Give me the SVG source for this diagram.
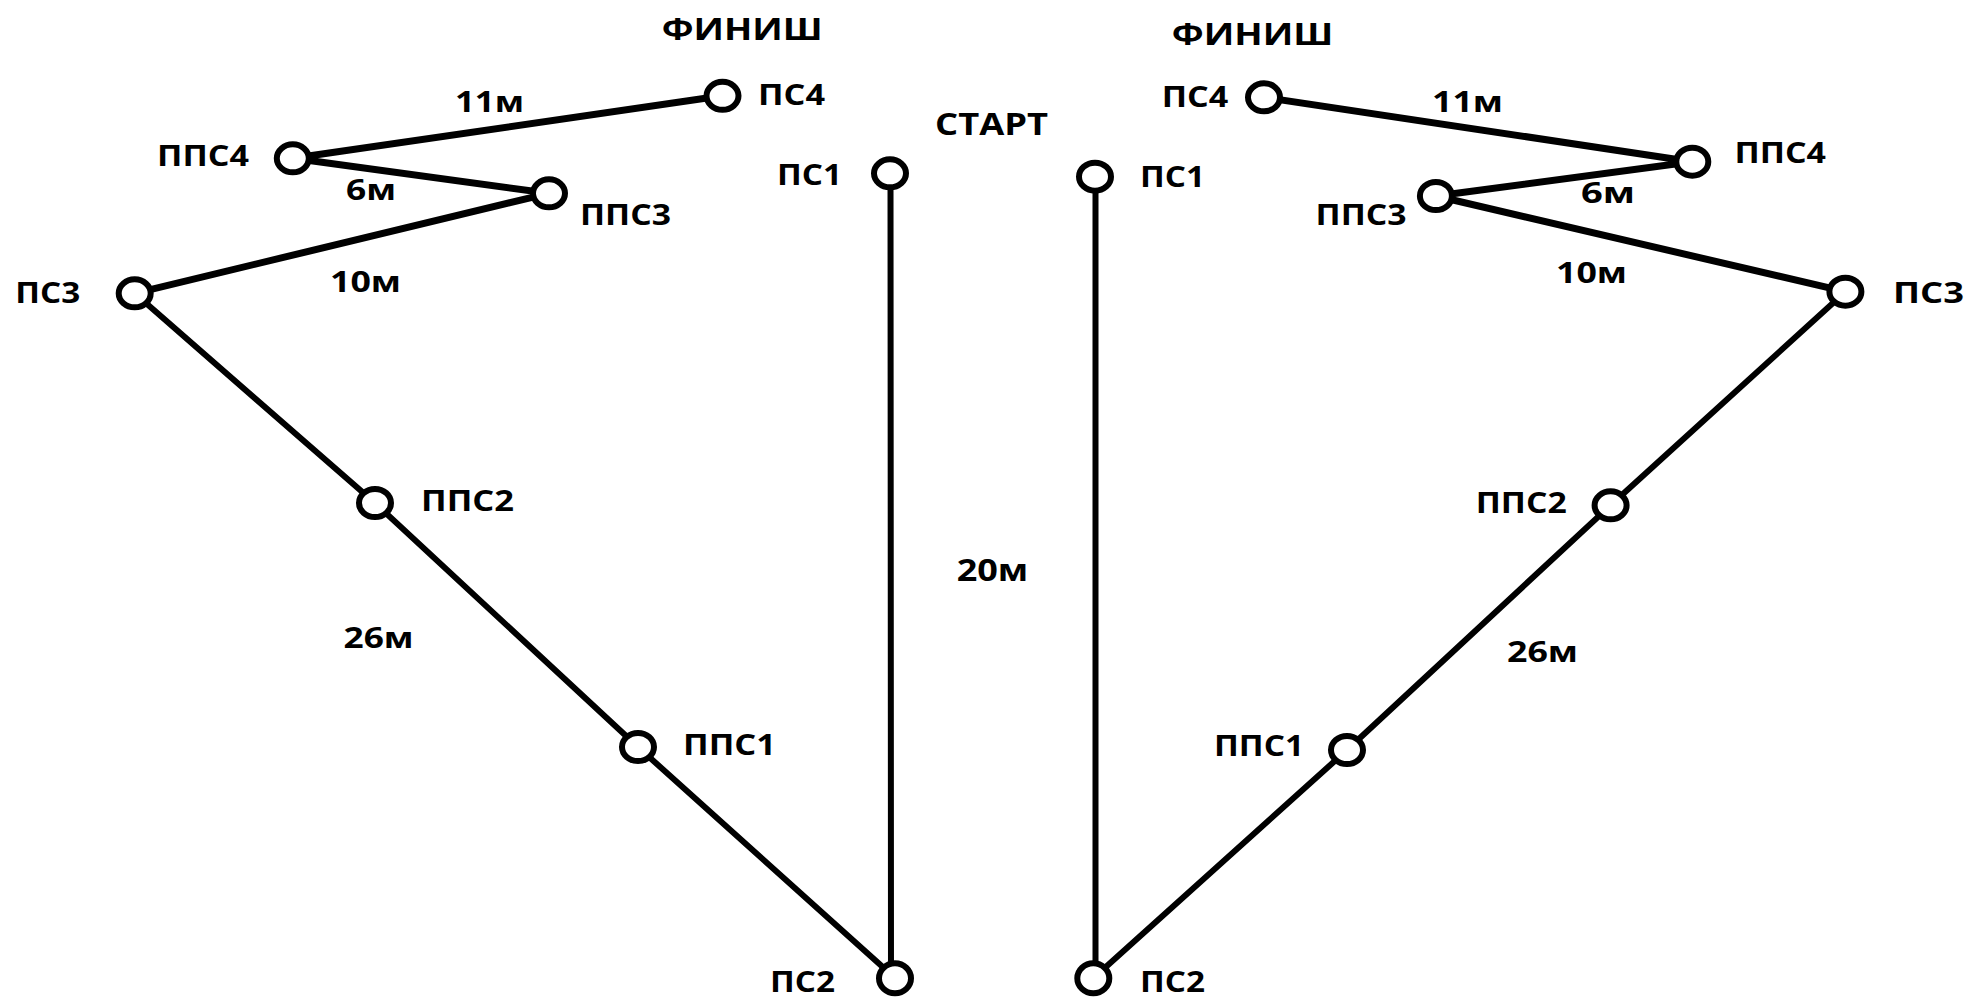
<svg xmlns="http://www.w3.org/2000/svg" width="1967" height="997" viewBox="0 0 1967 997">
<style>
.bg{fill:#fff}
.ln{stroke:#000;stroke-width:6;fill:none;stroke-linecap:round;stroke-linejoin:round}
.lt{stroke:#000;stroke-width:7;fill:none;stroke-linecap:round;stroke-linejoin:round}
.nd{fill:#fff;stroke:#000;stroke-width:6}
text{font-family:"Open Sans","Liberation Sans",sans-serif;font-weight:700;fill:#000}
.lb{font-size:28px}
.tt{font-size:31px}
</style>
<rect class="bg" x="0" y="0" width="1967" height="997"/>
<g id="connectors">
  <polyline class="lt" points="722.5,95.8 292.8,158.3 549,193.3 134.7,293.3"/>
  <polyline class="ln" points="134.7,293.3 375,503 638,747 895,978"/>
  <line class="ln" x1="890.5" y1="173" x2="891" y2="978"/>
  <polyline class="lt" points="1264,97.3 1692.3,161.7 1435.9,196 1845.4,291.7"/>
  <polyline class="ln" points="1845.4,291.7 1610.6,505.3 1347,750 1093.3,978.3"/>
  <line class="ln" x1="1095.5" y1="176.7" x2="1095.5" y2="978"/>
</g>
<g id="labels">
  <text class="tt" x="661.7" y="40" textLength="161" lengthAdjust="spacingAndGlyphs">ФИНИШ</text>
  <text class="tt" x="1171.7" y="45" textLength="161.6" lengthAdjust="spacingAndGlyphs">ФИНИШ</text>
  <text class="tt" x="935" y="135" textLength="113" lengthAdjust="spacingAndGlyphs">СТАРТ</text>
  <text class="lb" x="455" y="111.7" textLength="69" lengthAdjust="spacingAndGlyphs">11м</text>
  <text class="lb" x="1432" y="111.7" textLength="71" lengthAdjust="spacingAndGlyphs">11м</text>
  <text class="lb" x="346" y="200" textLength="50" lengthAdjust="spacingAndGlyphs">6м</text>
  <text class="lb" x="1581" y="203.3" textLength="54" lengthAdjust="spacingAndGlyphs">6м</text>
  <text class="lb" x="330" y="291.7" textLength="71" lengthAdjust="spacingAndGlyphs">10м</text>
  <text class="lb" x="1556" y="283.3" textLength="71" lengthAdjust="spacingAndGlyphs">10м</text>
  <text class="lb" x="343.6" y="648" textLength="70" lengthAdjust="spacingAndGlyphs">26м</text>
  <text class="lb" x="1507" y="661.8" textLength="71" lengthAdjust="spacingAndGlyphs">26м</text>
  <text class="tt" x="956.7" y="580.7" textLength="71.6" lengthAdjust="spacingAndGlyphs">20м</text>
</g>
<g id="L-PS4"><ellipse class="nd" cx="722.5" cy="95.8" rx="16" ry="14"/><text class="lb" x="758" y="105" textLength="67" lengthAdjust="spacingAndGlyphs">ПС4</text></g>
<g id="L-PPS4"><ellipse class="nd" cx="292.8" cy="158.3" rx="16" ry="14"/><text class="lb" x="157" y="165.7" textLength="92" lengthAdjust="spacingAndGlyphs">ППС4</text></g>
<g id="L-PPS3"><ellipse class="nd" cx="549" cy="193.3" rx="16" ry="14"/><text class="lb" x="580" y="225" textLength="91" lengthAdjust="spacingAndGlyphs">ППС3</text></g>
<g id="L-PS3"><ellipse class="nd" cx="134.7" cy="293.3" rx="16" ry="14"/><text class="lb" x="15.3" y="303" textLength="65" lengthAdjust="spacingAndGlyphs">ПС3</text></g>
<g id="L-PPS2"><ellipse class="nd" cx="375" cy="503" rx="16" ry="14"/><text class="lb" x="421" y="510.8" textLength="93" lengthAdjust="spacingAndGlyphs">ППС2</text></g>
<g id="L-PPS1"><ellipse class="nd" cx="638" cy="747" rx="16" ry="14"/><text class="lb" x="683" y="755" textLength="93" lengthAdjust="spacingAndGlyphs">ППС1</text></g>
<g id="L-PS2"><ellipse class="nd" cx="895" cy="978.3" rx="16" ry="15"/><text class="lb" x="770" y="991.7" textLength="65" lengthAdjust="spacingAndGlyphs">ПС2</text></g>
<g id="L-PS1"><ellipse class="nd" cx="890" cy="173.3" rx="16" ry="14"/><text class="lb" x="777" y="185" textLength="65" lengthAdjust="spacingAndGlyphs">ПС1</text></g>
<g id="R-PS4"><ellipse class="nd" cx="1264" cy="97.3" rx="16" ry="14"/><text class="lb" x="1161.7" y="106.7" textLength="66.6" lengthAdjust="spacingAndGlyphs">ПС4</text></g>
<g id="R-PPS4"><ellipse class="nd" cx="1692.3" cy="161.7" rx="16" ry="14"/><text class="lb" x="1734.4" y="163.3" textLength="91.6" lengthAdjust="spacingAndGlyphs">ППС4</text></g>
<g id="R-PPS3"><ellipse class="nd" cx="1435.9" cy="196" rx="16" ry="14"/><text class="lb" x="1315.6" y="225" textLength="91" lengthAdjust="spacingAndGlyphs">ППС3</text></g>
<g id="R-PS3"><ellipse class="nd" cx="1845.4" cy="291.7" rx="16" ry="14"/><text class="lb" x="1893" y="303" textLength="71" lengthAdjust="spacingAndGlyphs">ПС3</text></g>
<g id="R-PPS2"><ellipse class="nd" cx="1610.6" cy="505.3" rx="16" ry="14"/><text class="lb" x="1475.7" y="513" textLength="91" lengthAdjust="spacingAndGlyphs">ППС2</text></g>
<g id="R-PPS1"><ellipse class="nd" cx="1347" cy="750" rx="16" ry="14"/><text class="lb" x="1214" y="756" textLength="90" lengthAdjust="spacingAndGlyphs">ППС1</text></g>
<g id="R-PS2"><ellipse class="nd" cx="1093.3" cy="978.3" rx="16" ry="15"/><text class="lb" x="1140" y="991.7" textLength="65" lengthAdjust="spacingAndGlyphs">ПС2</text></g>
<g id="R-PS1"><ellipse class="nd" cx="1095" cy="176.7" rx="16" ry="14"/><text class="lb" x="1140" y="186.7" textLength="65" lengthAdjust="spacingAndGlyphs">ПС1</text></g>
</svg>
